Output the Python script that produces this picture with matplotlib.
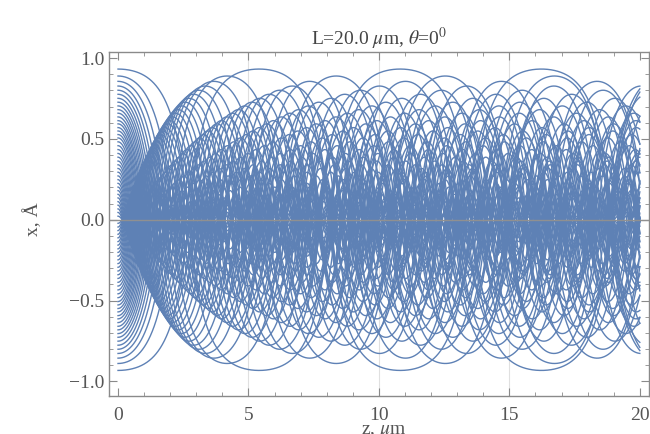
import numpy as np
import matplotlib.pyplot as plt
import matplotlib
from matplotlib.ticker import MultipleLocator, FuncFormatter

matplotlib.rcParams['font.family'] = ['Liberation Serif', 'DejaVu Serif']
matplotlib.rcParams['mathtext.fontset'] = 'stix'

# Moliere planar potential, Si (110), electrons
alpha = [0.1, 0.55, 0.35]
beta = [6.0, 1.2, 0.3]
a_tf = 0.194        # Thomas-Fermi radius, A
d_p = 1.92          # interplanar distance, A
u_th = 0.075        # thermal vibration amplitude, A
U_pl = 23.6         # 2*pi*N*d*Z*e^2*a_TF, eV
E_beam = 1.45e9     # eV
L = 20.0            # crystal length, um

# entrance coordinates (upper half, mirrored below), A
x0_upper = [0.932, 0.889, 0.856, 0.827, 0.801, 0.776, 0.751, 0.727, 0.704,
            0.681, 0.659, 0.636, 0.613, 0.593, 0.570, 0.549, 0.527, 0.506,
            0.482, 0.458, 0.434, 0.410, 0.387, 0.363, 0.340, 0.317, 0.294,
            0.271, 0.248, 0.225, 0.202, 0.180, 0.157, 0.135, 0.112, 0.090,
            0.067, 0.045, 0.022]


def force(x):
    f = np.zeros_like(x)
    for k in range(-3, 4):
        s = x - k*d_p
        r = np.abs(s)
        f1 = 0
        for al, be in zip(alpha, beta):
            f1 = f1 + al/a_tf*np.exp(-be*r/a_tf)
        f -= U_pl*np.tanh(s/u_th)*f1
    return f*1e8/E_beam   # A/um^2


# RK4, all trajectories at once
x0 = np.array(x0_upper + [-v for v in x0_upper])
dz = 0.002
n = int(round(L/dz))
z = np.linspace(0, L, n+1)
X = np.zeros((n+1, len(x0)))
x = x0.copy()
v = np.zeros_like(x0)
X[0] = x
for i in range(n):
    k1x = v; k1v = force(x)
    k2x = v+0.5*dz*k1v; k2v = force(x+0.5*dz*k1x)
    k3x = v+0.5*dz*k2v; k3v = force(x+0.5*dz*k2x)
    k4x = v+dz*k3v; k4v = force(x+dz*k3x)
    x = x + dz/6*(k1x+2*k2x+2*k3x+k4x)
    v = v + dz/6*(k1v+2*k2v+2*k3v+k4v)
    X[i+1] = x

frame_c = '#8a8a8a'
label_c = '#555555'

fig = plt.figure(figsize=[6.5, 4.34], dpi=100)
ax = fig.add_axes([0.1677, 0.0876, 0.8303, 0.7924])

for g in [5, 10, 15]:
    ax.axvline(g, color='#e0e0e0', lw=0.8, zorder=0)
ax.axhline(0, color='#909090', lw=1.0, zorder=3)

for j in range(len(x0)):
    ax.plot(z, X[:, j], color='#5e81b5', lw=1.0, zorder=2)

ax.set_xlim(-0.345, 20.34)
ax.set_ylim(-1.09, 1.037)
ax.xaxis.set_major_locator(MultipleLocator(5))
ax.xaxis.set_minor_locator(MultipleLocator(1))
ax.yaxis.set_major_locator(MultipleLocator(0.5))
ax.yaxis.set_minor_locator(MultipleLocator(0.1))
ax.xaxis.set_major_formatter(FuncFormatter(lambda t, p: '%d' % round(t)))
ax.yaxis.set_major_formatter(FuncFormatter(lambda t, p: ('%.1f' % t).replace('-', '\u2212')))
ax.tick_params(which='both', direction='in', top=True, right=True,
               color=frame_c, labelcolor=label_c, labelsize=14)
ax.tick_params(which='major', length=6, width=0.8)
ax.tick_params(which='minor', length=3, width=0.6)
ax.tick_params(axis='x', pad=8)
for sp in ax.spines.values():
    sp.set_color(frame_c)
    sp.set_linewidth(1.0)

ax.set_title(r'L=20.0 $\mu$m, $\theta$=0$^0$', fontsize=14, color='#444444', pad=5)
fig.text(0.59, 0.005, r'z, $\mu$m', fontsize=14, color='#555555', ha='center', va='center')
fig.text(0.05, 0.495, 'x, Å', fontsize=14, color='#555555', ha='center', va='center',
         rotation=90)

plt.savefig('out.png')
